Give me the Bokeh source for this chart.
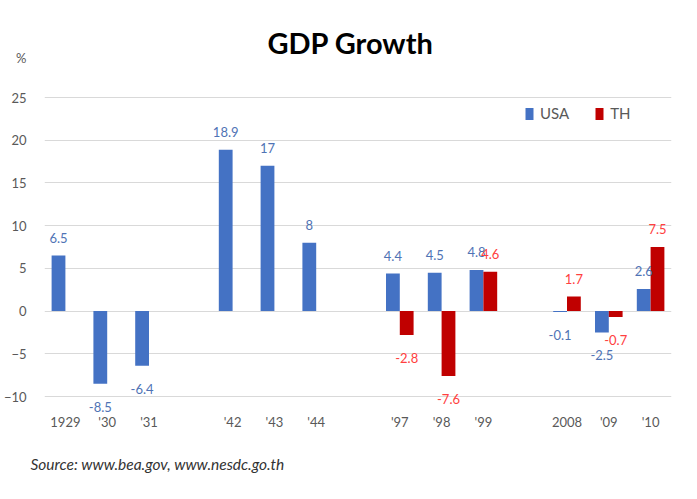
from bokeh.plotting import figure
from bokeh.models import (FactorRange, ColumnDataSource, Label, Legend, LegendItem,
                          FixedTicker, Title)
from bokeh.transform import dodge
from bokeh.core.properties import value
from bokeh.embed import file_html
from bokeh.resources import INLINE

# ---- data ----
era_1929 = ["1929", "'30", "'31"]
era_1940s = ["'42", "'43", "'44"]
era_1997 = ["'97", "'98", "'99"]
era_2008 = ["2008", "'09", "'10"]
categories = era_1929 + era_1940s + era_1997 + era_2008
usa = [6.5, -8.5, -6.4, 18.9, 17, 8, 4.4, 4.5, 4.8, -0.1, -2.5, 2.6]
th_categories = ["'97", "'98", "'99", "2008", "'09", "'10"]
th = [-2.8, -7.6, 4.6, 1.7, -0.7, 7.5]
y_ticks = [-10, -5, 0, 5, 10, 15, 20, 25]
unit_label = "%"
unit_label_pos = 29.6

FONT = "Lato"
USA_COLOR = "#4472C4"
TH_COLOR = "#C00000"

# factor range with blank gaps between eras
factors = []
for i, era in enumerate([era_1929, era_1940s, era_1997, era_2008]):
    if i > 0:
        factors.append(" " * i)
    factors.extend(era)

def fmt(v):
    return f"{v:g}"

usa_src = ColumnDataSource(dict(
    cat=categories, val=usa, lab=[fmt(v) for v in usa],
    off=[-18 if v >= 0 else 23 for v in usa]))
th_src = ColumnDataSource(dict(
    cat=th_categories, val=th, lab=[fmt(v) for v in th],
    off=[-18 if v >= 0 else 23 for v in th]))

# frame spans y 10..413 so that the title and the lower value labels fit in it
p = figure(width=681, height=499, x_range=FactorRange(*factors, range_padding=0),
           y_range=(-11.99, 35.19), output_backend="svg", toolbar_location=None,
           min_border_left=34, min_border_right=10, min_border_top=10,
           min_border_bottom=86)
p.x_range.factor_padding = 0
p.outline_line_color = None
p.background_fill_color = "white"
p.border_fill_color = "white"

p.xgrid.grid_line_color = None
p.ygrid.grid_line_color = "#D9D9D9"
p.ygrid.grid_line_width = 1
p.ygrid.ticker = FixedTicker(ticks=y_ticks)
p.yaxis.ticker = FixedTicker(ticks=y_ticks + [unit_label_pos])
p.yaxis.major_label_overrides = {unit_label_pos: unit_label}

for ax in (p.xaxis[0], p.yaxis[0]):
    ax.axis_line_color = None
    ax.major_tick_line_color = None
    ax.minor_tick_line_color = None
    ax.major_label_text_font = FONT
    ax.major_label_text_font_size = "13px"
    ax.major_label_text_color = "#595959"
p.xaxis.major_tick_out = 0
p.xaxis.major_tick_in = 0
p.xaxis.major_label_standoff = 0
p.yaxis.major_label_standoff = 12

r_usa = p.vbar(x=dodge("cat", -0.165, range=p.x_range), top="val", width=0.33,
               source=usa_src, fill_color=USA_COLOR, line_color=None)
r_th = p.vbar(x=dodge("cat", 0.165, range=p.x_range), top="val", width=0.33,
              source=th_src, fill_color=TH_COLOR, line_color=None)

p.text(x=dodge("cat", -0.165, range=p.x_range), y="val", text="lab", y_offset="off",
       source=usa_src, text_font=value(FONT), text_font_size="13px",
       text_color="#4F73B5", text_align="center", text_baseline="middle")
p.text(x=dodge("cat", 0.165, range=p.x_range), y="val", text="lab", y_offset="off",
       source=th_src, text_font=value(FONT), text_font_size="13px",
       text_color="#FF4040", text_align="center", text_baseline="middle")

legend = Legend(items=[LegendItem(label="USA", renderers=[r_usa]),
                       LegendItem(label="TH", renderers=[r_th])],
                orientation="horizontal", location=(480, 291))
legend.glyph_width = 10
legend.glyph_height = 15
legend.label_standoff = 6
legend.spacing = 25
legend.padding = 0
legend.margin = 0
legend.border_line_color = None
legend.background_fill_alpha = 0
legend.label_text_font = FONT
legend.label_text_font_size = "15px"
legend.label_text_color = "#595959"
legend.label_height = 15
p.add_layout(legend, "center")

# Label screen coordinates are relative to the plot frame's bottom-left corner
p.add_layout(Label(x=306, y=371, x_units="screen", y_units="screen",
                   text="GDP Growth", text_font=FONT, text_font_size="29px",
                   text_font_style="bold", text_color="black", text_align="center",
                   text_baseline="alphabetic"))

source_title = Title(text="Source: www.bea.gov, www.nesdc.go.th", align="left",
                     offset=-14, standoff=40, text_font=FONT, text_font_size="15.5px",
                     text_font_style="italic", text_color="#333333")
p.add_layout(source_title, "below")

open("out.html", "w").write(file_html(p, INLINE))
